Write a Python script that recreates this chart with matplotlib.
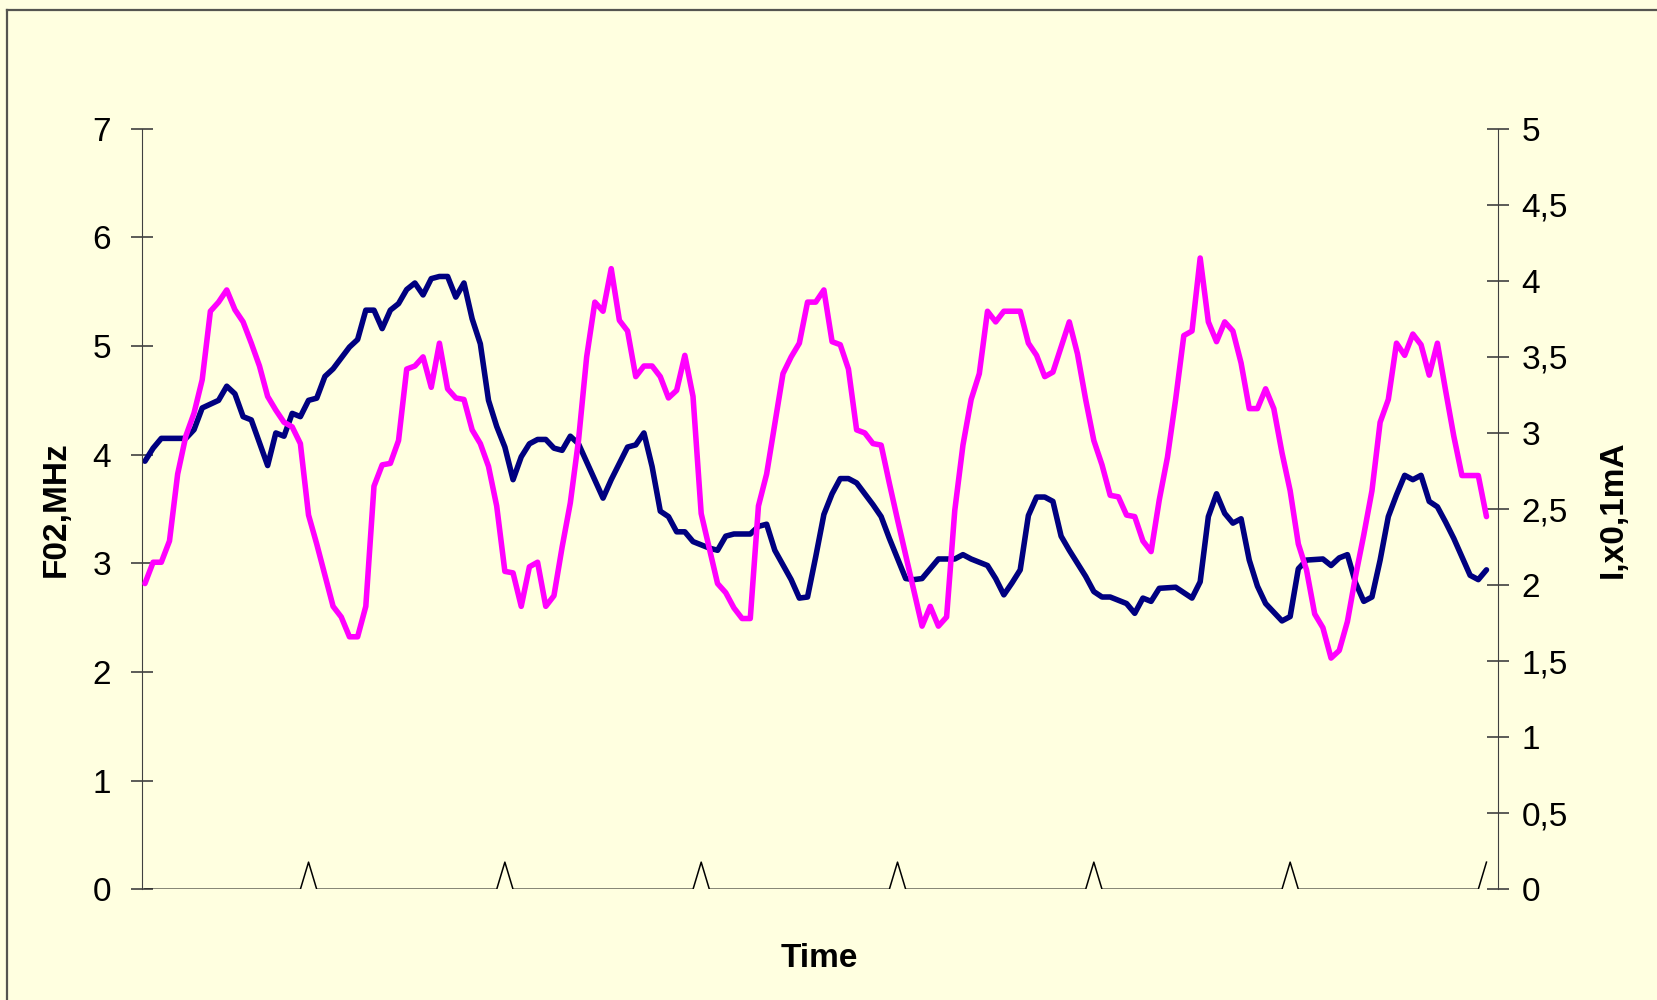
import matplotlib.pyplot as plt
import numpy as np
from matplotlib.lines import Line2D

plt.rcParams['font.family'] = ['Liberation Sans', 'DejaVu Sans']

# F02 (MHz), left axis: sample index, value
f02_t = [0, 1, 2, 5, 6, 7, 9, 10, 11, 12, 13, 15, 16, 17, 18, 19, 20, 21, 22, 23,
         25, 26, 27, 28, 29, 30, 31, 32, 33, 34, 35, 36, 37, 38, 39, 40, 41, 42, 43, 44,
         45, 46, 47, 48, 49, 50, 51, 52, 53, 56, 57, 59, 60, 61, 62, 63, 64, 65, 66, 67,
         69, 70, 71, 72, 74, 75, 76, 77, 79, 80, 81, 82, 83, 84, 85, 86, 87, 89, 90, 91,
         93, 94, 95, 97, 99, 100, 101, 103, 104, 105, 106, 107, 108, 109, 110, 111, 112, 113,
         115, 116, 117, 118, 120, 121, 122, 123, 124, 126, 128, 129, 130, 131, 132, 133, 134,
         135, 136, 137, 139, 140, 141, 142, 144, 145, 146, 147, 148, 149, 150, 151, 152, 153,
         154, 155, 156, 157, 158, 159, 160, 162, 163, 164]
f02 = [3.94, 4.06, 4.15, 4.15, 4.23, 4.43, 4.50, 4.63, 4.56, 4.35, 4.32, 3.90, 4.20, 4.17, 4.38, 4.35, 4.50, 4.52, 4.72, 4.79,
       4.99, 5.06, 5.33, 5.33, 5.16, 5.33, 5.39, 5.52, 5.58, 5.47, 5.62, 5.64, 5.64, 5.45, 5.58, 5.25, 5.02, 4.50, 4.26, 4.07,
       3.77, 3.98, 4.10, 4.14, 4.14, 4.06, 4.04, 4.17, 4.10, 3.60, 3.77, 4.07, 4.09, 4.20, 3.89, 3.48, 3.43, 3.29, 3.29, 3.20,
       3.14, 3.12, 3.25, 3.27, 3.27, 3.34, 3.36, 3.12, 2.85, 2.68, 2.69, 3.06, 3.45, 3.64, 3.78, 3.78, 3.74, 3.54, 3.43, 3.23,
       2.86, 2.85, 2.86, 3.04, 3.04, 3.08, 3.04, 2.98, 2.86, 2.71, 2.82, 2.94, 3.44, 3.61, 3.61, 3.57, 3.25, 3.12,
       2.88, 2.74, 2.69, 2.69, 2.63, 2.54, 2.68, 2.65, 2.77, 2.78, 2.68, 2.83, 3.43, 3.64, 3.46, 3.37, 3.41,
       3.03, 2.79, 2.63, 2.47, 2.51, 2.95, 3.03, 3.04, 2.98, 3.05, 3.08, 2.82, 2.65, 2.69, 3.03, 3.43, 3.63,
       3.81, 3.77, 3.81, 3.57, 3.52, 3.38, 3.23, 2.89, 2.85, 2.94]

# current (x0,1 mA), right axis
cur_t = [0, 1, 2, 3, 4, 5, 6, 7, 8, 9, 10, 11, 12, 13, 14, 15, 16, 17, 18, 19, 20, 21, 23, 24, 25, 26, 27,
         28, 29, 30, 31, 32, 33, 34, 35, 36, 37, 38, 39, 40, 41, 42, 43, 44, 45, 46, 47, 48, 49, 50,
         51, 52, 53, 54, 55, 56, 57, 58, 59, 60, 61, 62, 63, 64, 65, 66, 67, 68, 70, 71, 72, 73, 74,
         75, 76, 77, 78, 79, 80, 81, 82, 83, 84, 85, 86, 87, 88, 89, 90, 91, 92, 95, 96, 97, 98, 99,
         100, 101, 102, 103, 104, 105, 107, 108, 109, 110, 111, 113, 114, 115, 116, 117, 118, 119, 120,
         121, 122, 123, 124, 125, 126, 127, 128, 129, 130, 131, 132, 133, 134, 135, 136, 137, 138, 139,
         140, 141, 142, 143, 144, 145, 146, 147, 148, 149, 150, 151, 152, 153, 154, 155, 156, 157, 158,
         159, 160, 161, 163, 164]
cur = [2.01, 2.15, 2.15, 2.29, 2.73, 2.98, 3.13, 3.35, 3.80, 3.86, 3.94, 3.81, 3.73, 3.59, 3.44, 3.24, 3.15, 3.07, 3.04, 2.93, 2.46, 2.27, 1.86, 1.79, 1.66, 1.66, 1.86,
       2.65, 2.79, 2.80, 2.95, 3.42, 3.44, 3.50, 3.30, 3.59, 3.29, 3.23, 3.22, 3.02, 2.93, 2.78, 2.52, 2.09, 2.08, 1.86, 2.12, 2.15, 1.86, 1.93,
       2.25, 2.54, 2.95, 3.50, 3.86, 3.80, 4.08, 3.74, 3.67, 3.37, 3.44, 3.44, 3.37, 3.23, 3.28, 3.51, 3.24, 2.47, 2.01, 1.95, 1.85, 1.78, 1.78,
       2.52, 2.73, 3.06, 3.39, 3.50, 3.59, 3.86, 3.86, 3.94, 3.60, 3.58, 3.42, 3.02, 3.00, 2.93, 2.92, 2.67, 2.43, 1.73, 1.86, 1.73, 1.79, 2.49,
       2.92, 3.22, 3.39, 3.80, 3.73, 3.80, 3.80, 3.59, 3.51, 3.37, 3.40, 3.73, 3.52, 3.22, 2.95, 2.79, 2.59, 2.58, 2.46,
       2.45, 2.29, 2.22, 2.56, 2.84, 3.22, 3.64, 3.67, 4.15, 3.73, 3.60, 3.73, 3.67, 3.46, 3.16, 3.16, 3.29, 3.16, 2.87,
       2.62, 2.27, 2.10, 1.81, 1.72, 1.52, 1.57, 1.76, 2.06, 2.33, 2.62, 3.07, 3.22, 3.59, 3.51, 3.65, 3.58, 3.38, 3.59,
       3.28, 2.98, 2.72, 2.72, 2.45]

# time marks (small spikes on the baseline)
n_samples = 165
mark_t = [20, 44, 68, 92, 116, 140, 164]
mark_h = 0.25

bg = '#FFFFE0'
fig = plt.figure(figsize=(16.57, 10), dpi=100)
fig.patch.set_facecolor(bg)
ax = fig.add_axes([0.0855, 0.1107, 0.8185, 0.7606])
ax.set_facecolor(bg)
ax2 = ax.twinx()

base = np.zeros(n_samples)
base[mark_t] = mark_h
ax.plot(np.arange(n_samples), base, color='black', lw=1.1)
ax.plot(f02_t, f02, color='#000080', lw=4.0, solid_joinstyle='round', solid_capstyle='round')
ax2.plot(cur_t, cur, color='#FF00FF', lw=4.0, solid_joinstyle='round', solid_capstyle='round')

ax.set_xlim(-0.4, 165.4)
ax.set_ylim(0, 7)
ax2.set_ylim(0, 5)
ax.set_yticks(range(0, 8))
rt = np.arange(0, 5.01, 0.5)
ax2.set_yticks(rt)
ax2.set_yticklabels([('%g' % v).replace('.', ',') for v in rt])
ax.set_xticks([])

sc = '#404040'
for a in (ax, ax2):
    for s in ('top', 'bottom'):
        a.spines[s].set_visible(False)
    a.spines['left'].set_color(sc)
    a.spines['right'].set_color(sc)
ax.spines['right'].set_visible(False)
ax2.spines['left'].set_visible(False)
ax.tick_params(axis='y', direction='inout', length=16, width=1.2, color=sc, pad=14, labelsize=24)
ax2.tick_params(axis='y', direction='inout', length=16, width=1.2, color=sc, pad=9, labelsize=24)

ax.set_ylabel('F02,MHz', fontsize=24, fontweight='bold')
ax.yaxis.set_label_coords(-0.0514, 0.5)
ax2.set_ylabel('I,x0,1mA', fontsize=24, fontweight='bold', rotation=90)
ax2.yaxis.set_label_coords(1.0737, 0.5)
ax.set_xlabel('Time', fontsize=24, fontweight='bold')
ax.xaxis.set_label_coords(0.5, -0.071)

# frame of the chart area
fig.add_artist(Line2D([7 / 1657, 7 / 1657], [0, 1 - 10 / 1000], transform=fig.transFigure, color='#555550', lw=1.6))
fig.add_artist(Line2D([7 / 1657, 1], [1 - 10 / 1000, 1 - 10 / 1000], transform=fig.transFigure, color='#555550', lw=1.6))

fig.savefig('out.png', dpi=100, facecolor=bg)
